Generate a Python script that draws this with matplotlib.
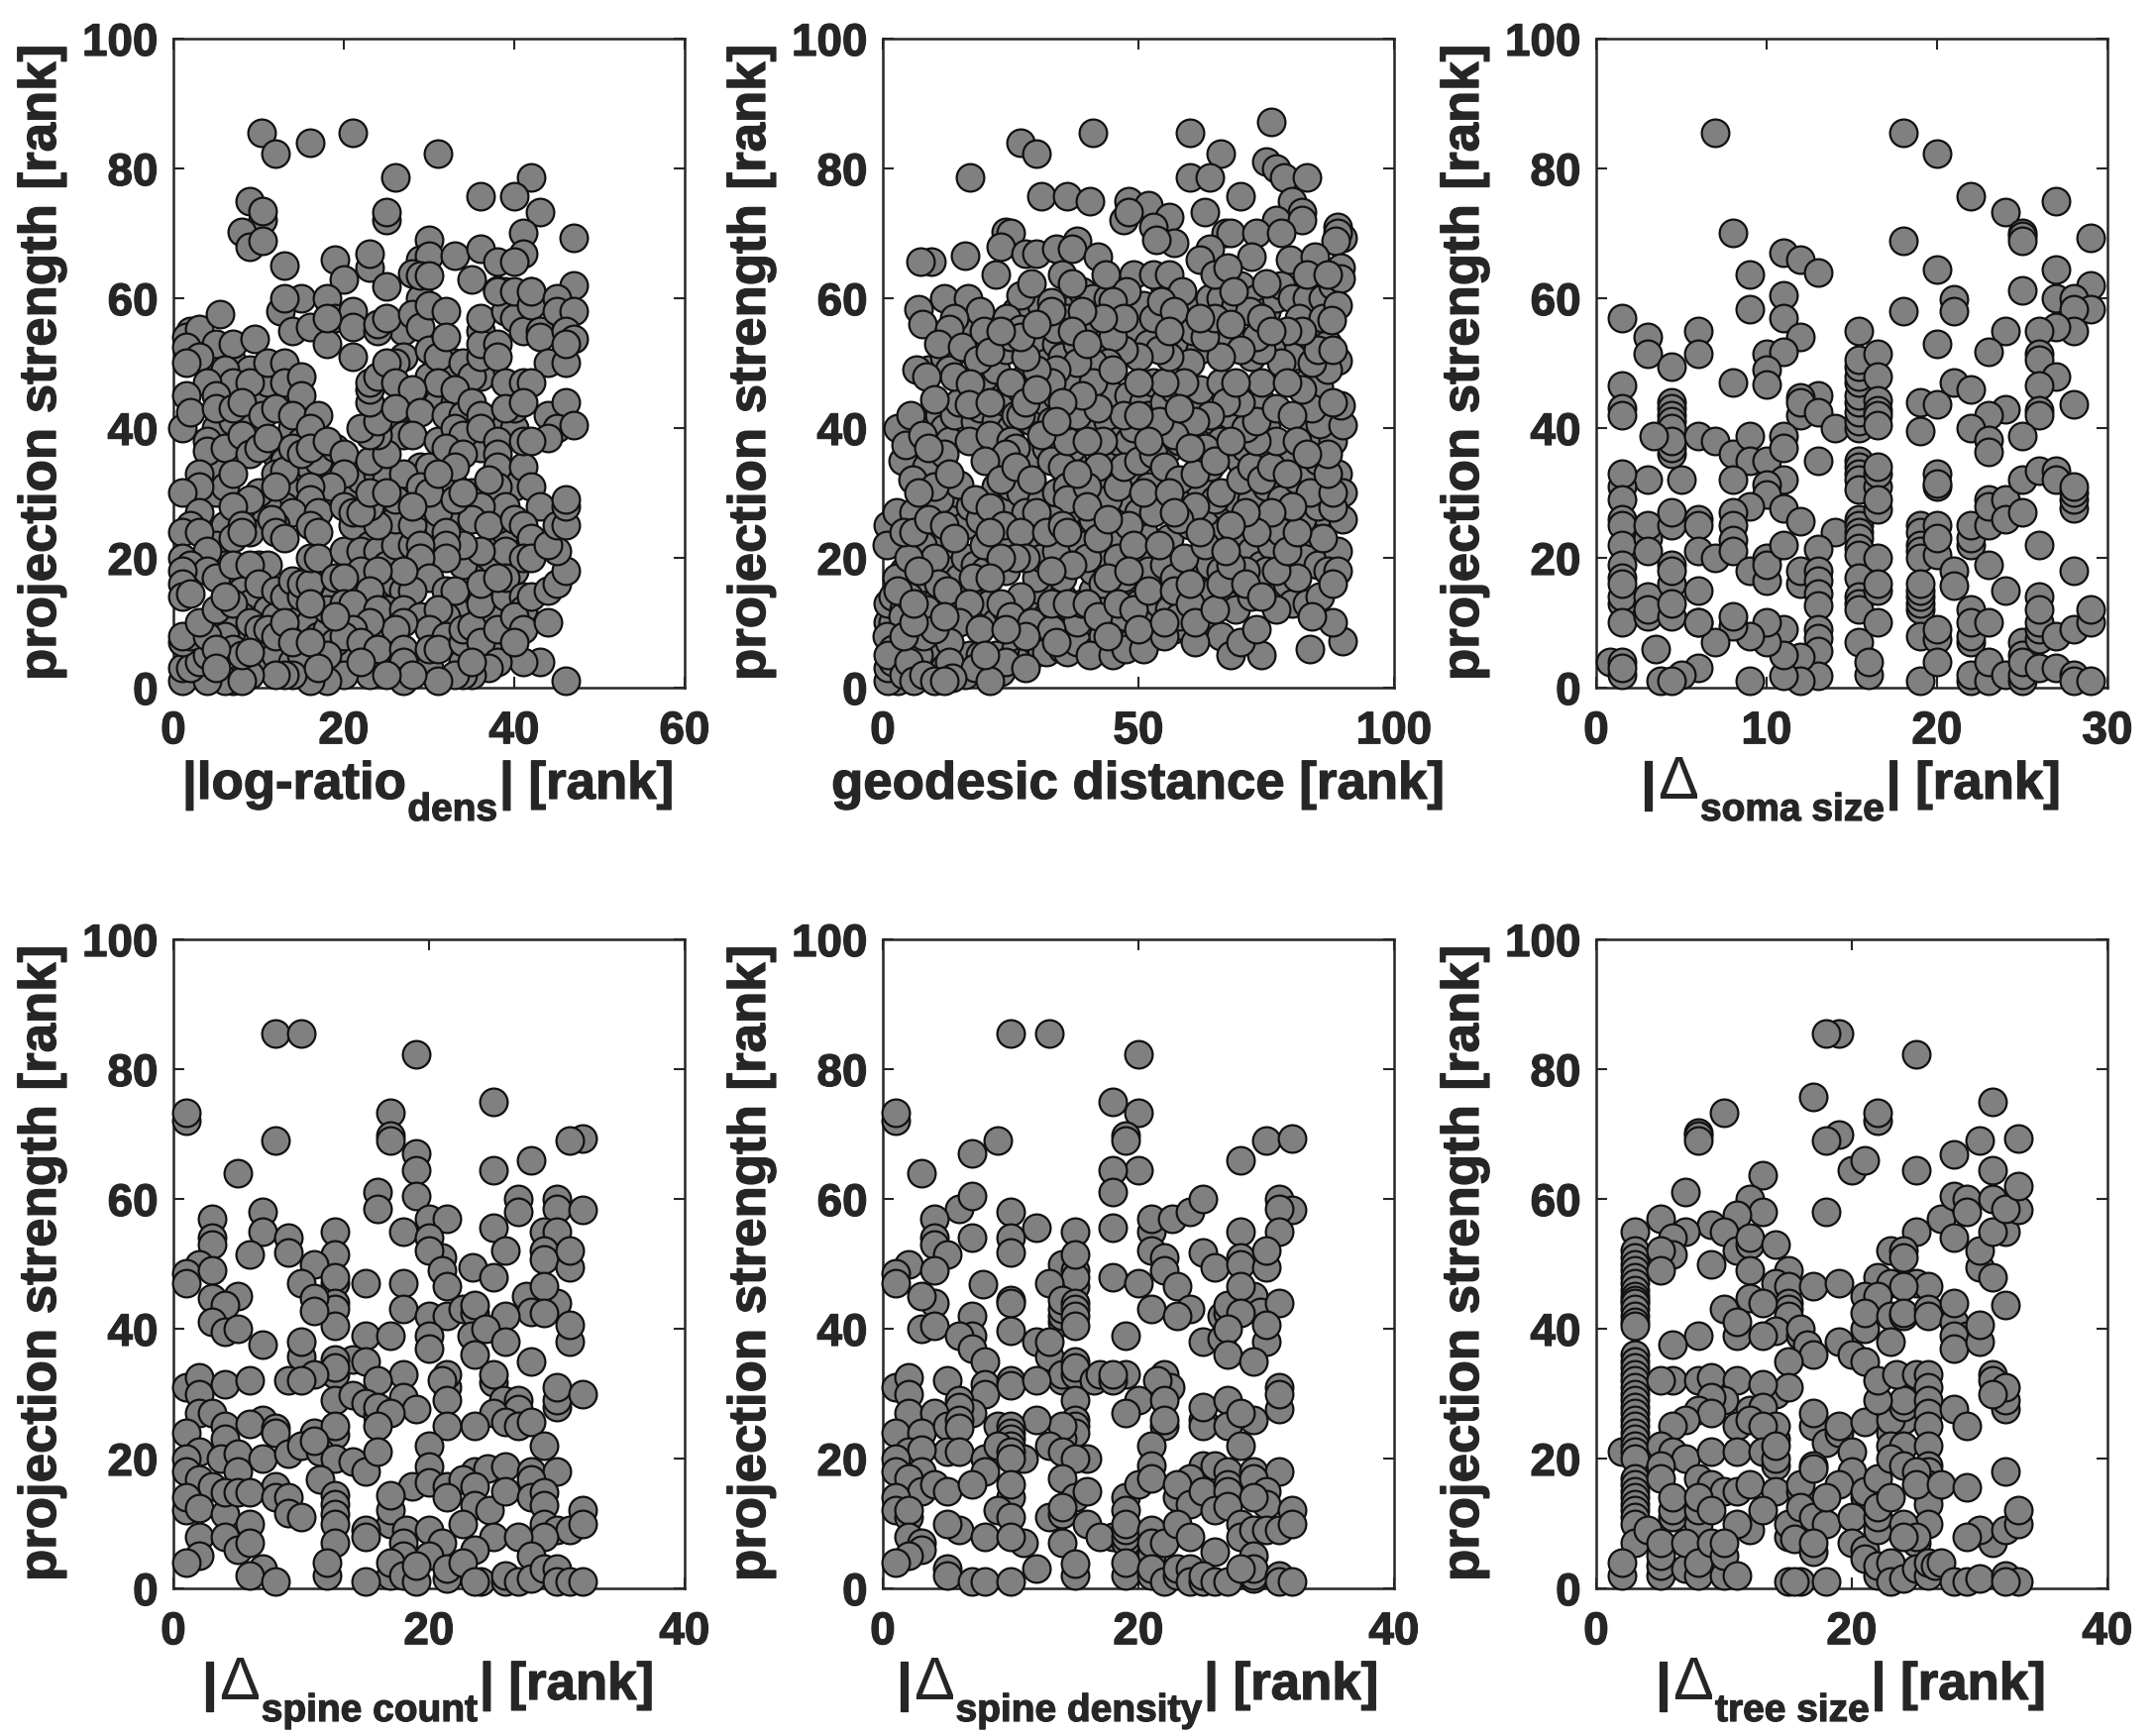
# six scatter panels: projection strength vs. feature differences (ranks)
import matplotlib
matplotlib.use('Agg')
import matplotlib.pyplot as plt
import matplotlib.patheffects as pe

strength_ticks = [0, 20, 40, 60, 80, 100]

log_ratio_pts = [
    (10.4,85.5),(12,82.3),(16,84),(21,85.5),(31,82.3),(26,78.7),(42,78.7),(36,75.8),(40,75.8),(43,73.3),(9,75),(10.5,72),(10.5,73.4),
    (25,72),(25,73.3),(8,70.2),(9,68),(10.5,68.8),(47,69.3),(41,70),(30,69),(13,65),(19,66),(23,64.7),(23,66.8),(20,62.9),(25,61.9),
    (29,66),(30,66.5),(33,66.5),(36,67.6),(38,65.6),(41,66.8),(40,65.6),(28,63.8),(29,63.5),(30,63.5),(35,62.9),(47,62),(42,61),(38,61.2),(39,61),
    (15,60),(12.5,58),(14,55),(16,55.5),(18,60),(19,57),(21,58),(21,55.5),(18,53),(21,51),(24,55),(24,56),(18,57),(13,60),(25,57),(27,51),(26,50),
    (28,57.5),(29,55.6),(30,52),(31,51),(30,59),(32,58),(32,54),(34,50),(35,48),(31,47),(33,46),(36,55),(36,51),(36,53),(38,53),(38,51),(36,57),
    (39,58),(38,61),(40,57),(41,55),(40,61),(42,59),(42,61),(43,55),(43,54),(45,60),(45,58),(44,50),(46,50),(47,58),(46,55),(47,53.7),(46,53),
    (2,55),(1.5,54),(3,55.3),(1.5,52.5),(5.5,57.5),(5,53),(7,53),(9.5,53.7),(3,51),(1.5,50),(6,49),(7,47),(9,47),(11,50),(13,50),(13,47),(15,48),(15,45),
    (4,47),(5,45),(1.5,45),(1,40),(2,42.5),(5,43),(7,43),(8,44),(10.5,42),(12,43),(14,42),(17,42),(16,40),(4,38),(4,36.5),(6,37),(8,39),(9,36),(10,37),
    (11,38.5),(12,33),(13,33.5),(12,31),(14,37),(15,36),(16,37),(18,38),(20,36),(20,33),(18.5,31),(16,31),(16,29),(9,29),(6,31),(3,33),(3,31),(1,30),(3,27),
    (7,33),(7,28),(14,27),(17,27),(16,25),(17,24),(12,25),(11.5,26),(12,24),(13,23),(8,25),(7,23),(8,24),(2,25),(1,24),(3,24),(4,21),(1,20),(2,19),(4,18),(5,17),
    (1,18),(1,16),(1,14),(2,14.5),(7,19),(10,19),(11,19),(9,19),(10,16),(12,15),(13,14),(14,16.5),(15,14),(15,16),(16,16),(16,20),(17,20),(19,17),(20,21),
    (21,25),(20,28),(21,27),(23,22),(22,21),(24,21),(22,18),(25,19),(26,22),(28,22),(29,20),(27,26),(26,26),(26,29),(28,25),(30,28),(31,27),(25,32),(27,33),
    (29,31),(30,30),(23,35),(25,36),(24,39),(23,39),(22,40),(24,41),(23,44),(23,46),(23,47),(24,48),(25,50),(26,47),(28,46),(26,43),(29,42.5),(28,39),(31,38),
    (32,42),(34,42),(35,44),(36,42),(33,40),(34,39),(32,37),(34,36),(33,34),(31,33),(36,40),(38,38),(38,36),(38,34),(38,31),(39,28),(41,34),(42,31),(43,28),
    (35,30),(37,32),(36,28),(35,26),(37,25),(40,26),(41,25),(42,23),(39,21),(41,20),(42,20),(36,21),(34,22),(32,24),(32,22),(32,20),(29,22),(29,20),(30,17),
    (32,15),(33,15),(28,15),(27,18),(24,18),(23,15),(20,17),(18,12),(20,13),(21,13),(25,12),(24,12),(27,12),(29,11),(31,12),(30,9),(27,10),(26,9),(23,10),(21,9),
    (20,8),(22,7),(24,6),(27,6),(27,4),(30,6),(32,8),(31,6),(34,7),(34,9),(35,9.5),(36,13),(36,16),(36,7),(38,9),(39,14),(39,17),(38,17),(41,14),(41,12),(40,11),
    (41,9),(42,14),(44,10),(44,15),(45,16),(46,18),(45,21),(44,22),(45,25),(46,25),(46,28),(46,29),(43,4),(41,4),(38,4),(37,3),(40,7),(35,2),(34,2),(33,2),(35,4),
    (31,1),(27,1),(28,2),(23,2),(25,2),(20,2),(22,4),(18,5),(18,1),(16,1),(14,2),(13,2),(12,2),(9,2),(7,1),(6,1),(8,1),(2,2),(1,1),(1,3),(3,3),(4,1),(2,3),(3,4),
    (4,5),(1,7),(2,8),(1,8),(4,8),(3,10),(5,12),(7,13),(6,14),(9,10),(10,9),(11,9),(12,8),(13,10),(14,7),(16,7),(17,3),(8,5),(9,5.5),(5,6),(5,3),(46,1),
    (19,11),(16,13),(24,25),(23,28),(22,27),(23,30),(25,30),(28,28),(33,29),(34,30),(39,47),(41,47),(42,47),(39,43),(41,44),(44,42),(46,44),(45,40),(47,40.5),
    (44,38.5),(41,38),(42,38),
]
log_ratio_extra = [
    (6,25),(5,22),(6,19),(7,16),(8,15),(9,13),(11,12),(12,11),(14,12),(8,11),(7,9),(6,8),(7,6),(10,5),(11,4),(12,5),(14,4),(15,5),(15,9),(16,10),(17,8),(18,9),(18,16),(17,14),
    (19,14),(21,16),(22,12),(23,12),(25,9),(25,15),(26,14),(26,16),(27,15),(27,21),(24,23),(25,23),(22,24),(19,30),(19,33),(20,30),(21,31),(22,32),(24,33),(26,33),(28,33),(29,34),
    (30,34),(33,31),(32,30),(33,26),(31,25),(33,23),(34,26),(38,24),(39,24),(38,26),(40,31),(38,29),(37,28),(40,18),(37,18),(38,15),(37,12),(35,17),(34,19),(34,14),(33,12),(32,11),
    (34,4),(36,5),(38,6),(39,7),(30,3),(26,4),(24,3),(21,5),(19,7),(12,36),(13,35),(15,33),(16,34),(14,30),(13,28),(11,28),(10,30),(10,26),(9,24),(8,28),(5,30),(5,34),(5,40),(7,41),
    (9,41),(10,44),(11,45),(13,44),(8,47),(4,51),(7,50),(9,49),(11,47),(14,40),(15,38),(17,35),(19,37),(26,40),(27,39),(29,45),(30,48),(31,44),(33,44),(37,37),(37,41),(36,37),(34,47),
    (33,50),(29,60),(36,48),(40,40),(40,43),(27,55),
]

geodesic_pts = [
    (41,85.5),(60,85.5),(76,87.2),(27,84),(30,82.3),(66,82.3),(17,78.7),(60,78.7),(64,78.7),(75,81),(77,80),(78.5,78.7),(83,78.7),(31,75.8),(36,75.8),(40.5,75),
    (48,75),(52,74.3),(70,75.8),(80,75),(63,73.3),(82,73.3),(47,72),(48,73.3),(56,72.5),(53,71),(77,72),(82,72),(89,71),(24,70.2),(25,70),(23,68),(9.5,65.7),(7.4,65.7),
    (16,66.5),(22,63.7),(28,66.8),(30,66.8),(38,68.8),(34,67.6),(37,67.6),(42,66.4),(67,70),(68,70),(73,70),(78,70),(90,69.3),(89,70),(88.6,68.8),(64,67.6),(57,68.6),
    (53.5,69),(62,66),(72,66.4),(79.6,66),(84.5,66.4),(89.5,64.7),(89.5,63),(65,63.7),(67.4,64.7),(75,62.3),(83,63.7),(87,63.7),(35,63.7),(43.6,63.7),(49,63.7),(53,63.7),
    (56,63.7),(58.5,61),(47.6,61),(45,59.6),(27,60.4),(29,62.3),(37,62.3),(12,60),(16.6,60),(19,58),(7,58.3),(7.8,56),(14,57),(13,55.3),(24.3,57),(27,55.3),(33,59.4),
    (36,57),(33.7,55.3),(53,57),(54.5,59.6),(57,58),(71.8,58),(68.6,61),(60.7,55),(81.4,57),(86,57),(89,59),(87.7,56.6),
    (0.7,22),(2.7,27),(6,27),(3,40),(5.4,42),(3.9,35),(4.5,37.4),(7.8,38.9),(8.5,34),(5.8,32),(6.5,49),(8.5,48),(10,44.4),(10.8,53),(15.5,52.5),(18.6,50.5),(19.8,55),
    (21,51.7),(17,46.8),(16.8,43.7),(16.8,38),(12,36),(11,29),(15,31.3),(18,29),(21,27.8),(23.6,25),(19.8,22),(7.8,22),(10,20),(2.7,17),(10.8,16),(12.6,15),(17.7,17),
    (16.8,13),(3.9,11),(8.5,12),(15,10),(19,9),(13,7),(0.7,8),(7,5),(13,4),(18,3),(24,4),(21,1),(3,1),(28,3),(13.5,1.5),(1,1),(1,3),(2,4),(2,6),(1,5),(4,2),(5,4),(6,1),
    (8,2),(10,1),(12,1),(8,8),(10,9),(12,11),(5,14),(3,15),(4,8),(6,10),(6,13),(5,20),(7,18),(4,24),(6,24),(9,26),(12,25),(14,23),(10,31),(13,33),(7,30),(9,37),
    (40.5,5),(45,5),(47.5,6),(51,6),(55,8),(61,7),(68,5),(74,5),(70,7),(73,9),(83.6,6),(90,7.2),(88,10),(83,13),(77,12),(85.5,14),(81,17),(75,18),(71,18),(89,21),(90,26),
    (88,27.8),(83.5,30),(85,35),(85.4,40.6),(90,40.5),(89.5,43.5),(85.3,46.4),(89,50.4),(87,18),(89,18),(88,16),(84,11),(86,23),(88,30),(87,33),(87,36),(84,43),(88,44),(87,49),
    (84,50),(82,46),(85,52),(88,52),(82,55),(79,55),(76,52),(78,50),(74,52),(73,54),(70,52),(66,51),(63,54),(65,57),(62,57),(60,50),(59,47),(55,47),(56,51),(54,52),(50,51),
    (50,47),(47,52),(45,54),(44,50),(41,50),(41,47),(38,53),(38,50),(34,49),(33,47),(30,49),(28,51),(25,47),(27,54),(23,55),(26,42),(27,42),(21,44),(21,39),(25,38),(26,37),
    (24,36),(20,35),(23,32),(26,34),(29,32),(33,35),(35,34),(36,31),(36,29),(33,26),(30,27),(27,24),(32,24),(35,25),(39,22),(40,20),(37,19),(33,18),(28,20),(26,20),(21,24),
    (23,20),(21,17),(27,14),(23,13),(25,11),(29,10),(33,9),(34,7),(28,8),(24,9),(20,5),(33,13),(36,13),(40,13),(42,11),(44,8),(46,13),(49,12),(50,9),(52,15),(55,10),(57,15),
    (60,13),(61,10),(65,12),(66,16),(68,19),(71,16),(74,14),(77,18),(79,21),(81,24),(80,28),(76,27),(73,24),(71,27),(68,25),(65,29),(61,28),(58,26),(53,27),(48,25),(49,22),
    (54,22),(59,20),(63,22),(67,21),(60,16),(44,17),(48,18),(42,23),(44,29),(46,31),(47,34),(43,38),(47,42),(42,34),(40,31),(38,33),(36,38),(36,42),(33,41),(31,39),(28,44),
    (30,46),(40,38),(38,42),(42,43),(50,35),(53,36),(55,34),(58,32),(61,33),(63,37),(65,35),(66,30),(70,32),(72,34),(74,32),(76,34),(79,33),(77,38),(73,38),(71,40),(73,41),
    (77,43),(80,42),(70,44),(67,44),(64,42),(61,41),(57,39),(54,41),(52,38),(50,42),(58,43),(68,38),(69,47),(79,47),(81,38),(83,36),(60,37),(56,55),(47,57),(43,57),(39,58),
    (37,55),(33,58),(30,56),(68,56),(74,57),(76,55),(40,53),(45,49),(39,45),(35,44),(34,41),(40,28),(36,24),(44,26),(51,30),(56,30),(57,27),(62,24),
]
geodesic_extra = [
    (3,2),(4,4),(5,2),(6,3),(7,2),(9,3),(9,5),(11,3),(11,5),(12,3),(14,2),(15,3),(16,2),(15,5),(17,5),(19,5),(20,3),(22,5),(23,2.5),(25,4.5),(26,6),(27,4),(29,5),(30,7),(31,6),(32,5.5),
    (35,6),(36,5.5),(38,7),(42,6),(43,8),(46,7),(49,7.5),(53,8),(57,9),(59,9.5),(64,9),(66,8),
    (1,10),(2,10),(1,13),(2,14),(4,12),(7,11),(9,10),(10,13),(11,11),(13,12),(14,14),(15,13),(17,11),(18,13),(20,11),(21,13),(22,10),(24,12),(26,12),(27,11),(29,13),(31,15),(32,11),(34,11),
    (35,14),(37,12),(38,10),(39,13),(41,15),(43,14),(45,10),(47,11),(48,15),(50,13),(53,11),(54,13),(56,12),(58,11),(62,14),(64,15),(67,13),(69,12),(72,14),(75,14),(79,16),(80,13),
    (4,18),(5,17),(6,20),(8,17),(9,22),(11,19),(12,22),(13,18),(15,17),(16,20),(18,19),(20,18),(22,21),(24,18),(25,22),(29,22),(30,17),(31,20),(34,21),(35,17),(38,24),(41,18),(42,20),(43,16),
    (45,23),(46,20),(47,17),(50,20),(51,24),(52,18),(55,19),(56,23),(57,17),(61,18),(64,19),(65,24),(66,18),(69,23),(70,20),(72,21),(74,19),(76,22),(78,24),(80,19),(83,20),(84,24),(85,19),(86,27),
    (3,24),(1,25),(5,22),(8,25),(10,26),(12,29),(13,26),(16,25),(17,28),(19,26),(22,31),(24,28),(25,31),(27,30),(28,27),(31,29),(34,30),(36,27),(37,35),(39,31),(41,26),(42,29),(43,32),(45,27),
    (46,35),(48,29),(49,33),(50,27),(52,31),(54,29),(55,36),(59,29),(60,25),(62,31),(63,27),(64,34),(67,28),(69,29),(70,35),(72,29),(75,31),(78,29),(79,36),(81,32),(82,26),(84,33),(85,28),(89,33),(90,30),
    (5,38),(6,36),(9,41),(10,38),(11,42),(12,40),(13,38),(14,42),(15,44),(18,41),(19,43),(20,47),(22,41),(23,38),(24,44),(25,40),(27,46),(29,36),(29,41),(30,43),(32,37),(32,44),(34,45),(37,37),
    (37,46),(40,44),(41,41),(43,47),(44,41),(45,45),(46,38),(48,38),(48,45),(49,40),(51,44),(52,42),(53,47),(55,44),(56,37),(57,46),(58,38),(60,44),(62,38),(62,46),(65,41),(66,38),(66,47),(68,42),
    (71,37),(72,44),(74,44),(75,36),(75,40),(74,47),(82,41),(83,47),(86,38),(86,44),(88,38),
    (9,49),(12,51),(13,49),(14,48),(16,55),(17,52),(20,48),(22,54),(22,49),(24,52),(25,54),(26,58),(28,48),(29,58),(31,52),(31,59),(32,50),(34,53),(35,51),(36,48),(38,59),(39,61),(40,56),(41,60),
    (43,53),(44,60),(46,56),(48,54),(49,58),(50,55),(51,59),(52,53),(55,62),(56,59),(58,55),(59,59),(60,53),(62,52),(64,60),(66,60),(67,55),(69,59),(70,62),(72,51),(73,60),(75,58),(77,60),(78,62),
    (80,60),(81,52),(83,60),(84,54),(86,60),(87,53),(88,62),(80,51),
]

soma_pts = [
    (1.5,57),(1.5,46.5),(1.5,43),(1.5,42),(3,54),(3,51.5),(4.4,49.4),(6,55),(6,51.5),(7,85.5),(8,70),(9,63.7),(9,58.3),(8,47),(11,67),(12,66),(13,64),(11,60.4),(11,57),(12,54),
    (10,51.4),(11,51.8),(10,49),(10,46.7),(12,42),(13,45),(12,44.7),(12,44),(13,42.4),(14,40),(15.4,55),(15.4,40),(15.4,41),(15.4,42.5),(15.4,44),(15.4,45),(15.4,47),(15.4,48),
    (15.4,49.5),(15.4,50.5),(16.5,51.4),(16.5,48),(16.5,44.3),(16.5,42.7),(16.5,42),(16.5,40.4),(18,85.5),(20,82.3),(22,75.8),(24,73.3),(27,75),(25,70),(25,69.6),(25,68.8),
    (29,69.3),(18,68.8),(20,64.5),(27,64.5),(21,59.8),(21,58),(18,58),(25,61.2),(29,62),(27,60),(28,60),(29,58.3),(28,58.3),(28,55),(27,55.5),(26,55),(24,55),(20,53),(23,51.8),
    (26,51.4),(26,50.5),(27,48),(26,46.5),(21,47),(22,46),(19,44),(20,43.7),(28,43.7),(24,42.9),(23,42),(26,42.8),(26,42),(22,40),(19,39.6),(25,38.8),(23,38.2),(23,36.3),
    (4.4,44),(4.4,43),(4.4,42),(4.4,41),(4.4,40),(4.4,36),(4.4,37),(4.4,38),(3.4,38.8),(6,38.8),(7,38),(8,36),(9,38.8),(9,35),(10,35),(11,38.8),(11,37),(13,35),(8,32),(11,32),
    (10,31.3),(10,29.8),(9,28),(8,27),(8,25),(11,27.7),(12,25.7),(14,24),(3,32),(5,32),(1.5,31),(1.5,33),(1.5,29),(1.5,26),(1.5,25),(1.5,22),(1.5,19),(1.5,17),(1.5,13),(1.5,14),
    (1.5,16),(1.5,10),(3,23),(3,25),(3,21),(3,11),(3,13),(3,14),(3,12),(4.4,25),(4.4,27),(4.4,19),(4.4,16),(4.4,18),(4.4,11),(4.4,13),(6,26),(6,25),(6,21),(6,15),(6,10),(7,20),
    (8,22.7),(8,21),(9,18),(10,16.5),(10,20),(10,19),(11,22),(13,21.3),(12,16),(12,18),(13,18),(13,16.5),(13,14.5),(13,12.7),(13,9),(13,7.7),(13,5.7),(13,1.9),(12,4.7),(12,1),
    (11,9),(11,1.9),(11,5),(10,7),(10,10),(9,8),(9,1),(8,9.5),(8,11),(7,7),(6,10),(6,3),(5,2),(3.8,1),(4.4,1),(3.5,6),(0.8,4),(1.5,2),(1.5,4),(1.5,3),
    (15.4,35),(15.4,34),(15.4,33),(15.4,32),(15.4,30.5),(15.4,26),(15.4,25),(15.4,24),(15.4,23),(15.4,21.5),(15.4,20.5),(15.4,17),(15.4,14),(15.4,13),(15.4,12),(15.4,7),(16,2),(16,4),
    (16.5,27.5),(16.5,31),(16.5,33),(16.5,34),(16.5,29),(16.5,20),(16.5,15),(16.5,16),(16.5,10),
    (19,25),(19,24),(19,22),(19,21),(19,20),(19,12),(19,13),(19,14),(19,15),(19,16),(19,8),(19,1),(20,33),(20,31),(20,31.5),(20,25),(20,20.5),(20,23),(20,7.5),(20,9),(20,4),(21,18),(21,15.7),
    (22,22),(22,23),(22,25),(22,12),(22,7),(22,8),(22,10),(22,1),(22,2),(23,29),(23,25),(23,28),(23,19),(23,10),(23,1),(23,4),(24,29),(24,26),(24,15),(24,2),(25,32),(25,27),(25,1),(25,2),(25,7),(25,5),(25,4),
    (26,33.5),(26,22),(26,7.5),(26,9),(26,10),(26,14),(26,12),(26,3),(27,33.5),(27,32),(27,8),(27,3),(28,27.6),(28,29),(28,30),(28,31),(28,18),(28,9),(28,2),(28,1),(29,10),(29,12),(29,1),
]

spine_count_pts = [
    (1,72),(1,73.3),(8,85.5),(10,85.5),(19,82.3),(25,75),(17,73.3),(17,69.7),(17,69),(8,69),(32,69.3),(31,69),(19,67),(19,64.4),(25,64.4),(28,66),(5,64),(16,61),(16,58.5),(19,60.4),(27,60),(27,58),
    (30,60),(30,58.4),(32,58.3),(3,57),(7,58),(7,55),(20,57),(21.4,57),(18,55),(12.6,55),(25,55.5),(29,55),(30,55),(3,54),(3,53),(9,54),(9,51.7),(6,51.4),(20,54),(21,51),(20,52),(26,52),(29,52),(29,50.7),
    (31,49.5),(31,52),(12.6,51.5),(2,50),(1,48.5),(1,47),(3,49),(11,50),(12.6,47),(12.6,48),(10,47),(15,47),(18,47),(21,49),(23.4,49.5),(25,48),(21.4,46.5),(12.6,44),(12.6,43),(12.6,40.5),(3,44.7),(5,45),(4,43.6),
    (11,44.7),(11,42.7),(18,43),(20,42),(21.4,42),(22.6,43),(23.6,42.4),(23.6,43.7),(27.6,45),(30,44),(29,46.5),(28,42.6),(29,42.4),(26,42),(31,38),(31,40.6),(3,41),(4,39.6),(5,40),(7,37.6),(10,35.8),(10,38),(15,39),
    (17,39),(20,39),(20,37),(23.3,39),(24.4,40),(26,38),(23.6,36),(28,35),(14,35.3),(15,35),(12.6,33),(12.6,35.3),(12.6,34),(11,33),(18,33),(25,31.8),(25,33),(21.4,31),(21.4,33),(21,32),(1,31),(2,32.5),(4,31.4),
    (2,30),(6,32),(9,32),(10,32),(16,32),(30,28),(30,29),(30,31),(32,30),(12.6,29),(14,29.7),(15,28.5),(18,29.5),(19,27.7),(21.4,29),(25.8,29),(27,29),(27,27.7),(2,27),(3,27),(7,26),(16,26.5),(16,27.9),(17,27),
    (25,27),(23.6,25),(26,25.7),(27,25),(28,25.7),(1,24),(4,25),(6,25.3),(8,24.7),(8,24),(11,24),(12.6,23.7),(12.6,25),(16,25),(21.4,25),(4,23),(2,21),(1,20),(3.7,20),(5,20.7),(7,20),(9,20.8),(10,22),(11.5,21),
    (11,22.7),(12.6,20),(14,19.6),(15,18),(16,21),(20,22),(20,18.8),(29,22),(1,18),(5,18),(23.6,18),(24.6,18.4),(26,18.8),(28,18),(30,18),(2,16.8),(3,15.8),(8,15.8),(11.5,16.8),(18.7,15.8),(20,16.4),(21.4,15.8),
    (22.6,16.8),(23.6,15.8),(28,16.8),(1,12),(1,14),(2,12.4),(4,11.5),(4,14.8),(5,14.8),(6,14.8),(8,14),(9,14),(9,11.6),(10,11),(12.6,14.4),(12.6,13),(12.6,11.5),(12.6,10),(12.6,7),(17,10),(17,12),(17,14.4),(21.4,14),
    (23.6,12.8),(24.7,12),(26,15),(28,14),(29,14.8),(29,12.8),(32,12),(15,9),(15,8),(18.2,9),(18,7),(20,9),(22.6,10),(29,10),(30,9),(31,9),(32,10),(29,8),(25,8),(27,8),(21,7),(2,8),(4,8),(5,6),(6,10),(6,7),(2,5),(1,4),
    (18,5),(20,5),(23.6,6),(28,5),(12,2),(12,4),(17,2),(17,4),(7,3),(6,2),(8,1),(15,1),(18,2),(19,1),(19,3.5),(21.4,1.5),(21.4,3),(22.6,3.9),(24,1),(23.6,1),(26,1),(26,2),(27,1),(28,1.5),(29,3),(30,3),(30,1),(31,1),(32,1),
]

spine_density_pts = [
    (1,72),(1,73.3),(10,85.5),(13,85.5),(20,82.3),(18,75),(20,73.3),(19,69.8),(19,69),(9,69),(7,67),(3,64),(20,64.4),(18,64.4),(18,61),(28,66),(30,69),(32,69.3),(6,58.5),(7,60.4),(10,58),(4,57),(12,55.5),(7,54),(10,54),
    (10,51.7),(4,54),(4,53),(5,51.5),(2,50),(1,48.5),(1,47),(4,49),(15,55),(18,55.5),(21,55),(21,57),(22.6,57),(24,58),(25,60),(31,60),(32,58.3),(31,58.4),(31,55),(28,55),(25,51.8),(21,52),(22,51),(22,49),(23,46.5),
    (26,49.5),(28,51),(28,50),(30,49.5),(30,52),(14,50),(15,49),(15,46.5),(15,48),(15,51.5),(13,47),(7.8,46.8),(18,48),(20,47),(4,44),(3,45),(10,44.5),(10,44),(14,41),(14,42),(14,43),(14,44.5),(15,44),(15,43),(15,42),(15,40.5),
    (7,42),(21,43),(24,43),(23,42),(26.5,42),(27,42.4),(27,43.6),(29,45),(29.5,42.6),(28,46.5),(28,42.5),(31,44),(30,38),(30,40.6),(3,40),(4,40.5),(7,39),(6,39),(7,37),(10,39.7),(12,38),(13,35.8),(13,38),(19,39),(25,38),(26.5,38.5),
    (27,40),(27,36),(29,35),(8,35),(14,32),(14,33),(15,33),(15,35),(15,34),(16.5,32),(17,33),(19,33),(18,32),(18,33),(1,31),(2,32.5),(2,30),(5,32),(8,31.5),(8,30),(10,32),(10,31.3),(12,32),(22,33),(22.5,31),(21.5,32),(20,29),(22,29),
    (31,27.7),(31,31),(31,30),(6,29),(7,27),(6,28),(2,27),(4,27),(15,29),(19,27),(25,26),(25,25),(25,28),(27,29),(27,25),(29,26),(28,27),(22,25),(22,26),(15,26),(15,25),(15,24),(14,23),(14,25),(12,26),(9,25),(10,25),(10,24),(10,23),(10,22),
    (1,24),(3,24),(5,25),(6,26),(6,24.7),(5,21),(6,21),(2,21),(3,21.4),(1,20),(8,20),(9,22),(11,20),(10,21),(10,20),(13,22),(14,21),(16,20),(15,20),(21,22),(28,22),(21,19),(25,19),(26,19),(27,18),(29,18),(31,18),(1,18),(3,18),(8,18),
    (2,17),(3,15),(4,16),(5,15),(7,16),(10,14),(10,16),(14,17),(15,14),(16,15),(19,14),(19,12),(20,16),(21,17),(24,17),(23,14),(23,16),(24,13),(25,15),(27,16),(27,15),(26,12),(27,12.7),(29,17),(30,15),(30,13),(29,14),(32,12),
    (1,14),(1,12),(2,11),(2,12),(9,12),(10,11),(13,11),(14,11.5),(14,12.5),(16,10),(6,9),(5,10),(8,8),(11,7),(10,8),(14,7),(18,8),(17,8),(19,7),(19,8),(19,9),(19,10),(21,9),(21,5),(21,7),(22,7),(23,10),(24,8),(26,5.6),(28,10),(28,8),
    (29,9),(30,9),(31,9),(32,10),(2,8),(3,7),(3,6),(2,5),(1,4),(5,3),(5,2),(7,1),(8,1),(10,1),(12,3),(15,2),(15,3.8),(19,2),(19,4),(21,2),(21,3),(22,1),(23,2),(23,3),(24,3),(24,1),(25,1),(25,2),(26,1),(27,1),(29,5),(29,1.5),(29,2),(29,3),
    (28,3),(31,2),(31,1),(32,1),
]

tree_size_pts = [
    (19,85.5),(18,85.5),(25,82.3),(17,75.8),(31,75),(22,72),(22,73.3),(10,73.3),(8,70.2),(8,69.8),(8,69),(19,70),(18,69),(20,64.4),(21,66),(13,63.7),(25,64.4),(28,66.8),(30,69),(33,69.3),(31,64.4),(7,61),(12,60),(13,58),
    (11,57.5),(9,56),(5,57),(7,55),(10,55),(6,54),(11,52),(12,53),(12,54),(14,53),(3,55),(3,52),(3,51),(3,50),(3,49),(3,48),(3,47),(3,46),(3,45),(3,44.5),(3,44),(3,43),(3,42),(3,41),(3,40.5),(6,51.5),(5,52),(5,49),(9,50),
    (12,49),(15,49),(14,47),(15,46.5),(15,44),(15,43),(15,42),(17,46.5),(19,47),(18,58),(25,55),(27,57),(28,60.4),(29,60),(29,58),(28,54),(30,49.5),(30,52),(31,48),(31,60),(32,55),(31,55),(33,58.3),(32,58.4),(33,62),(32,43.7),
    (23,52),(24,52),(24,51),(22,48),(23,47),(25,47),(26,46.5),(24,46.5),(21,45),(22,45),(21,40),(21,42.5),(23,42),(24,42),(24,42.5),(26,43),(26,42),(28,41),(28,44),(12,44.7),(13,44),(10,43),(11,39),(11,41),(14,39.7),(13,39),
    (8,39),(6,37.6),(16,39),(16,40),(16.5,37.6),(17,36),(19,38),(20,36),(21,35),(15,35),(23,38),(29,39),(28,39),(28,37),(30,38),(30,40.6),(31,33),(31,32),(32,27.7),(32,29),(32,31),(31,30),(32,18),(2,21),(3,36),(3,35),(3,34),
    (3,33),(3,32),(3,31),(3,30),(3,29),(3,28),(3,27),(3,26),(3,25),(3,24),(3,23),(3,22),(3,21),(3,20),(3,17),(3,16),(3,15),(3,14),(3,13),(3,12),(3,11),(3,10),(3,7),(6,32),(5,32),(8,32),(9,32.5),(11,32),(14,30),(15,31),(13,31.5),
    (10,29),(9,29.5),(8,27.5),(9,27),(12,27.5),(13,28),(7,26),(6,25),(11,25),(12,26),(14,23),(14,25),(13,25),(5,22),(6,21),(7,20),(9,21),(11,21),(13,21),(14,19),(14,20),(14,22),(17,25),(17,27),(18,22.5),(19,24),(19,25),(20,21),
    (21,25.7),(23,24),(24,26),(23,26),(24,28),(24,29),(23,22),(24,22),(22,29),(22,32),(23.5,33),(25,33),(26,33),(26,31),(26,29),(26,27),(26,25),(26,22),(26,19),(26,18),(26,16),(26,14),(26,13),(26,9.9),(28,27.7),(29,25),(5,19),
    (5,17),(8,17),(9,16),(10,15),(11,15),(12,16),(14,15),(16,15),(16,16),(17,19),(17,18.4),(20,18),(19,16),(21,14),(21,15),(22,17),(23,20),(24,19),(25,18),(25,16),(27,16),(29,15.6),(6,11),(6,12),(6,14),(8,10),(8,12),(8,14),(9,12),
    (12,9),(11,10),(13,12),(15,8),(15,10),(15.5,7.6),(16,12.5),(17,11),(18,10),(18,14),(20,11),(20,7),(21,6),(22,9),(22,11),(22,12.5),(23,14),(24,10),(25,7),(25,8),(24,8),(31,7),(30,9),(29,8),(32,9),(33,10),(33,12),(4,9),(5,2),(5,3.5),
    (5,5),(5,7),(7,3),(7,7),(8,2),(8,4),(9,7),(10,2),(10,5),(10,7),(11,2),(16,1),(15,1),(15.5,1),(18,1),(17,5.6),(17,7),(21,4.6),(22,2),(22,3.5),(23,4),(23,1),(24,1.5),(25,3),(26,2),(26,4),(26.5,3.5),(27,4),(28,1),(29,1),(30,1.6),(32,2),
    (33,1),(32,1),(2,2),(2,4),
]

plt.rcParams['font.family'] = ['Liberation Sans', 'DejaVu Sans']
plt.rcParams['font.weight'] = 'bold'
ink = '#262626'
W, H = 2176, 1751
heavy = [pe.withStroke(linewidth=0.9, foreground=ink)]

# (points, xlim, xticks, label parts) - parts are (text, kind) pairs
panels = [
    (log_ratio_extra + log_ratio_pts, 60, [0, 20, 40, 60], [('|log-ratio', 0), ('dens', 1), ('| [rank]', 0)]),
    (geodesic_extra + geodesic_pts, 100, [0, 50, 100], [('geodesic distance [rank]', 0)]),
    (soma_pts, 30, [0, 10, 20, 30], [('|', 0), ('\u0394', 2), ('soma size', 1), ('| [rank]', 0)]),
    (spine_count_pts, 40, [0, 20, 40], [('|', 0), ('\u0394', 2), ('spine count', 1), ('| [rank]', 0)]),
    (spine_density_pts, 40, [0, 20, 40], [('|', 0), ('\u0394', 2), ('spine density', 1), ('| [rank]', 0)]),
    (tree_size_pts, 40, [0, 20, 40], [('|', 0), ('\u0394', 2), ('tree size', 1), ('| [rank]', 0)]),
]
lefts = [175, 891, 1611]
tops = [39, 948]
ax_w, ax_h = 516, 655
label_size = 38
tick_size = 33

fig = plt.figure(figsize=(W / 100, H / 100), dpi=100)


def draw_xlabel(parts, cx, base_y):
    # lay the pieces out left to right, then shift the row to be centred on cx
    renderer = fig.canvas.get_renderer()
    items = []
    x = 0
    for txt, kind in parts:
        size = {0: label_size, 1: 28, 2: 44}[kind]
        dy = 22 if kind == 1 else 0
        weight = 'normal' if kind == 2 else 'bold'
        t = fig.text(0, 1 - (base_y + dy) / H, txt, fontsize=size, fontweight=weight,
                     color=ink, va='baseline', ha='left')
        if kind != 2:
            t.set_path_effects(heavy)
        wid = t.get_window_extent(renderer).width
        items.append((t, x))
        x += wid + 2
    start = cx - x / 2
    for t, off in items:
        t.set_x((start + off) / W)


for i, (pts, xmax, xticks, parts) in enumerate(panels):
    col = i % 3
    row = i // 3
    left, top = lefts[col], tops[row]
    ax = fig.add_axes([left / W, 1 - (top + ax_h) / H, ax_w / W, ax_h / H])
    xs = [p[0] for p in pts]
    ys = [p[1] for p in pts]
    ax.scatter(xs, ys, s=400, c='#808080', edgecolors='#111111', linewidths=1.6, clip_on=False, zorder=3)
    ax.set_xlim(0, xmax)
    ax.set_ylim(0, 100)
    ax.set_xticks(xticks)
    ax.set_yticks(strength_ticks)
    ax.tick_params(direction='in', length=8, width=1.5, top=True, right=True, color=ink,
                   labelsize=tick_size, labelcolor=ink)
    ax.tick_params(axis='x', pad=16)
    ax.tick_params(axis='y', pad=11)
    for lab in ax.get_xticklabels() + ax.get_yticklabels():
        lab.set_path_effects(heavy)
    for s in ax.spines.values():
        s.set_linewidth(1.8)
        s.set_color(ink)
    ylab = ax.set_ylabel('projection strength [rank]', fontsize=label_size, fontweight='bold', color=ink)
    ylab.set_path_effects(heavy)
    ax.yaxis.set_label_coords(-108 / ax_w, 0.5)
    draw_xlabel(parts, left + ax_w / 2, top + ax_h + 112)

fig.savefig('out.png', dpi=100)
